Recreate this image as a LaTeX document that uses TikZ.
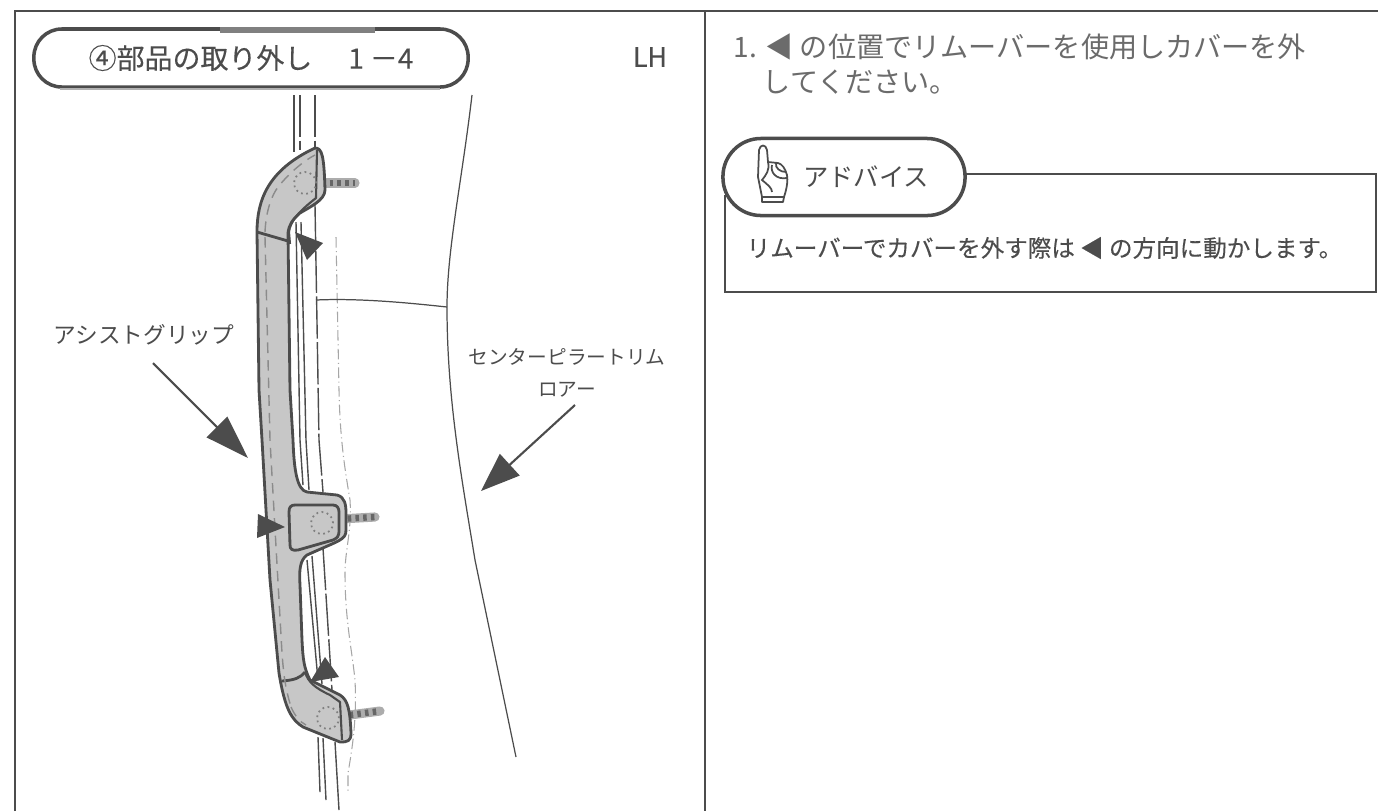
\documentclass[tikz,border=0pt]{standalone}
\usepackage{fontspec}
\setmainfont{Noto Sans CJK JP}
\newfontfamily\medfont[FakeBold=0.25]{Noto Sans CJK JP}
\usetikzlibrary{arrows.meta}
\definecolor{inkgray}{gray}{0.3}
\definecolor{lightink}{gray}{0.42}
\definecolor{gripgray}{gray}{0.78}
\tikzset{
	frameline/.style={draw=inkgray, line width=0.75pt},
	pill/.style={draw=inkgray, line width=1pt, fill=white, rounded corners=0.28cm},
	gripline/.style={draw=inkgray, line width=0.8pt, line join=round},
	stitch/.style={draw=white!35!inkgray, line width=0.4pt, densely dashed},
	railline/.style={draw=inkgray, line width=0.4pt},
	trimline/.style={draw=inkgray, line width=0.35pt},
	faintline/.style={draw=gray!70, line width=0.3pt, densely dash dot},
	bolt/.style={draw=gray!65, line width=2.6pt, line cap=round},
	boltgrain/.style={draw=gray!120, line width=1.8pt, dash pattern=on 1pt off 1.2pt},
	bolthead/.style={draw=gray, line width=0.5pt, densely dotted},
	marker/.style={fill=inkgray},
	callout/.style={draw=inkgray, line width=0.6pt},
	label/.style={text=inkgray, inner sep=0pt}
}
\begin{document}
\begin{tikzpicture}[x=0.01cm, y=-0.01cm]
	\useasboundingbox (0,0) rectangle (1388,811);
	% Frame
	\draw[frameline] (15,811) -- (15,11) -- (1378,11);
	\draw[frameline] (705,11) -- (705,811);

	% Rails behind the grip
	\draw[railline] (294,95) -- (294,152);
	\draw[railline, dash pattern=on 12pt off 1pt] (300,95) -- (300,150);
	\draw[railline, dash pattern=on 12pt off 1pt] (315,95) -- (315,148);
	\draw[railline] (296,222) -- (300,440) -- (303,485);
	\draw[railline] (301,222) -- (306,440) -- (309,490);
	\draw[railline, dash pattern=on 12pt off 1pt] (315,205) -- (319,440) -- (323,492);
	\draw[railline] (307,560) -- (318,680);
	\draw[railline] (312,556) -- (322,684);
	\draw[railline, dash pattern=on 12pt off 1pt] (323,548) -- (332,690);
	\draw[railline] (318,737) -- (320,792);
	\draw[railline] (323,738) -- (326,800);
	\draw[railline] (335,742) -- (339,810);
	\draw[faintline] (336,237) -- (339,390) .. controls (340,440) and (345,470) .. (350,500) .. controls (352,530) and (345,550) .. (345,573) .. controls (345,620) and (352,650) .. (355,680) .. controls (357,720) and (352,750) .. (348,773) -- (348,793);

	% Trim
	\draw[trimline] (472,95) .. controls (462,180) and (447,250) .. (447,307) .. controls (447,400) and (462,480) .. (475,560) -- (516,757);
	\draw[trimline] (316,300) .. controls (360,298) and (410,303) .. (447,307);

	% Bolts
	\draw[bolt] (322,183) -- (355,183);
	\draw[boltgrain] (322,183) -- (355,183);
	\draw[bolt] (340,519) -- (375,517);
	\draw[boltgrain] (340,519) -- (375,517);
	\draw[bolt] (342,716) -- (380,711);
	\draw[boltgrain] (342,716) -- (380,711);

	% Grip
	\draw[gripline, fill=gripgray] (257,232) .. controls (257,200) and (268,170) .. (315,148)
		.. controls (322,148) and (324,155) .. (325,190)
		.. controls (325,200) and (310,207) .. (300,213) .. controls (292,220) and (289,225) .. (288,233)
		-- (290,390) -- (293,440) .. controls (294,470) and (297,490) .. (307,492) -- (337,495)
		.. controls (345,497) and (346,505) .. (346,513) -- (346,530) .. controls (346,540) and (340,540) .. (307,555)
		.. controls (300,560) and (299,570) .. (300,585) -- (302,640) .. controls (303,660) and (304,668) .. (310,680)
		-- (340,695) .. controls (348,700) and (350,710) .. (351,733) .. controls (351,741) and (348,742) .. (340,742)
		-- (303,727) .. controls (292,720) and (285,710) .. (279,673) -- (270,580) -- (262,440) -- (259,390) -- cycle;
	\draw[gripline] (257,232) -- (288,241); % upper seam
	\draw[gripline] (282,681) .. controls (295,680) and (300,678) .. (305,672); % lower seam
	\draw[gripline, line width=0.6pt] (290,244) -- (289,232) .. controls (290,222) and (298,212) .. (316,198) -- (317,150); % top rim
	\draw[gripline, line width=0.6pt] (305,672) .. controls (308,682) and (315,688) .. (330,695) -- (340,702) -- (342,740); % bottom rim
	\draw[gripline, fill=gripgray] (289,512) .. controls (289,507) and (291,505) .. (295,505) -- (333,505)
		.. controls (337,505) and (339,508) .. (339,512) -- (339,530) .. controls (339,537) and (337,538) .. (333,540)
		-- (298,550) .. controls (292,551) and (290,549) .. (290,545) -- cycle; % plate
	\draw[stitch] (265,232) .. controls (266,210) and (272,195) .. (278,187) .. controls (290,172) and (305,160) .. (315,155);
	\draw[stitch] (265,237) -- (270,440) -- (282,653) .. controls (284,680) and (286,690) .. (291,707);
	\draw[stitch] (291,707) .. controls (295,716) and (300,722) .. (306,725);

	% Bolt heads
	\draw[bolthead] (305,183) circle (0.11cm);
	\draw[bolthead] (322,523) circle (0.11cm);
	\draw[bolthead] (328,718) circle (0.11cm);

	% Markers
	\fill[marker] (295,232) -- (323,243) -- (307,260) -- cycle;
	\fill[marker] (285,527) -- (258,514) -- (257,538) -- cycle;
	\fill[marker] (310,682) -- (325,657) -- (339,677) -- cycle;

	% Title
	\node[pill, minimum width=4.34cm, minimum height=0.58cm, font=\medfont\fontsize{7.95pt}{10pt}\selectfont, text=inkgray] (title) at (251,58) {④部品の取り外し\hspace{0.36cm}1\hspace{0.06cm}－4};
	\draw[gray, line width=1.5pt] (220,30) -- (375,30); % heavier part of the top edge
	\draw[gray!60, line width=0.4pt] (60,89) -- (440,89); % faint second edge
	\node[label, font=\medfont\fontsize{7.6pt}{9pt}\selectfont] (side) at (650,57) {LH};

	% Part labels
	\node[label, font=\fontsize{6.45pt}{8pt}\selectfont] (gripname) at (144,335) {アシストグリップ};
	\coordinate (gripstart) at (153,363);
	\coordinate (griptip) at (248,458);
	\draw[callout, -{Triangle[length=4.4mm, width=2.9mm]}] (gripstart) -- (griptip);
	\node[label, font=\fontsize{5.6pt}{8pt}\selectfont] (trimname) at (567,357) {センターピラートリム};
	\node[label, font=\fontsize{5.6pt}{8pt}\selectfont] (trimsub) at (567,390) {ロアー};
	\coordinate (trimstart) at (575,405);
	\coordinate (trimtip) at (481,491);
	\draw[callout, -{Triangle[length=3.9mm, width=2.9mm]}] (trimstart) -- (trimtip);

	% Instruction
	\node[label, text=lightink, anchor=west, font=\fontsize{8pt}{10pt}\selectfont] (step) at (733,47) {1. ◀ の位置でリムーバーを使用しカバーを外};
	\node[label, text=lightink, anchor=west, font=\fontsize{8pt}{10pt}\selectfont] (stepnext) at (762,82) {してください。};

	% Advice box
	\draw[frameline] (725,195) -- (725,292) -- (1376,292) -- (1376,174) -- (963,174);
	\node[pill, rounded corners=0.38cm, minimum width=2.42cm, minimum height=0.77cm] (advice) at (844,177) {};
	\node[label, font=\fontsize{7.2pt}{9pt}\selectfont] (advicetext) at (866,177) {アドバイス};
	\node[label, anchor=west, font=\medfont\fontsize{6.7pt}{8pt}\selectfont] (advicenote) at (746,248) {リムーバーでカバーを外す際は ◀ の方向に動かします。};

	% Hand
	\draw[inkgray, line width=0.5pt, line join=round] (762,202) -- (783,202) -- (784,197) .. controls (787,188) and (788,180) .. (787,175)
		.. controls (785,168) and (782,164) .. (778,163) -- (768,162) -- (767,150) .. controls (766,144) and (760,144) .. (759,150)
		-- (758,177) -- (762,197) -- cycle;
	\draw[inkgray, line width=0.5pt] (762,197) -- (784,197);
	\draw[inkgray, line width=0.5pt] (768,162) .. controls (770,170) and (766,175) .. (762,180) .. controls (768,185) and (772,188) .. (772,192);
	\draw[inkgray, line width=0.5pt] (772,165) .. controls (770,172) and (776,180) .. (787,178);
	\draw[inkgray, line width=0.5pt] (776,163) .. controls (775,168) and (780,172) .. (786,172);
\end{tikzpicture}
\end{document}
